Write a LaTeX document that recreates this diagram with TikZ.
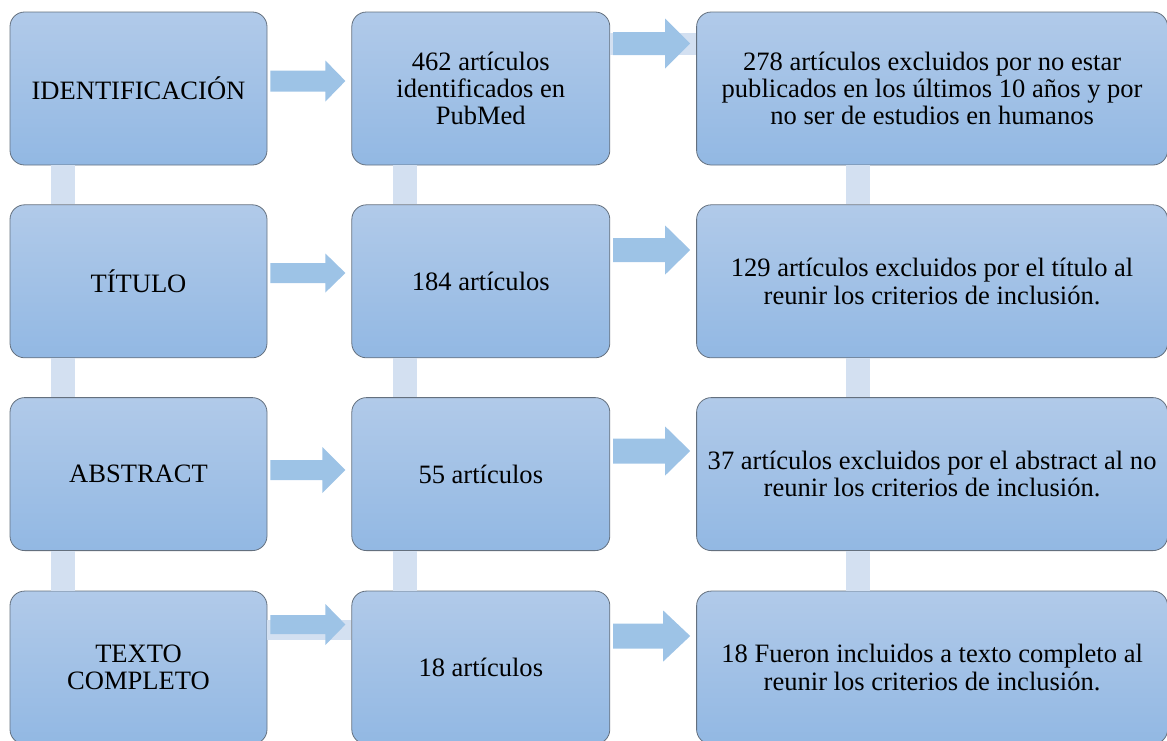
\documentclass[tikz,border=0pt]{standalone}
\usepackage{fontspec}
\setmainfont{Liberation Serif}
\usetikzlibrary{positioning,calc}

\definecolor{boxtop}{RGB}{177,202,233}
\definecolor{boxbottom}{RGB}{146,184,227}
\definecolor{boxline}{RGB}{100,112,126}
\definecolor{arrowblue}{RGB}{157,195,230}
\definecolor{linkblue}{RGB}{211,224,241}

% block arrow: from, to, y, half shaft, half head, head length
\newcommand{\stagearrow}[6]{%
  \path (#1.east |- 0,#3) coordinate (as) (#2.west |- 0,#3) coordinate (ae);
  \fill[arrowblue] ($(as)+(3,-#4)$) -- ($(ae)+(-6-#6,-#4)$) -- ($(ae)+(-6-#6,-#5)$)
    -- ($(ae)+(-6,0)$) -- ($(ae)+(-6-#6,#5)$) -- ($(ae)+(-6-#6,#4)$) -- ($(as)+(3,#4)$) -- cycle;
}

\begin{document}
\begin{tikzpicture}
   [x=0.75pt, y=-0.75pt,
    stage/.style={rectangle, rounded corners=11pt, draw=boxline, line width=0.6pt,
      top color=boxtop, bottom color=boxbottom, align=center, inner sep=2pt,
      minimum height=114.75pt, font=\fontsize{19.9}{20.5}\selectfont},
    first/.style={stage, minimum width=192.75pt},
    count/.style={stage, minimum width=193.5pt},
    result/.style={stage, minimum width=353.25pt},
    vlink/.style={linkblue, line width=18pt}]
   \useasboundingbox (0,0) rectangle (1167,740);

   % left column
   \node[first] (i1) at (138.5,88.5) {IDENTIFICACIÓN};
   \node[first, below=29.25pt of i1] (i2) {TÍTULO};
   \node[first, below=29.25pt of i2] (i3) {ABSTRACT};
   \node[first, below=29.75pt of i3] (i4) {TEXTO\\COMPLETO};

   % middle column
   \node[count, right=63pt of i1] (c1) {462 artículos\\identificados en\\PubMed};
   \node[count, right=63pt of i2] (c2) {184 artículos};
   \node[count, right=63pt of i3] (c3) {55 artículos};
   \node[count, right=63pt of i4] (c4) {18 artículos};

   % right column
   \node[result, right=64.5pt of c1] (r1) {278 artículos excluidos por no estar\\publicados en los últimos 10 años y por\\no ser de estudios en humanos};
   \node[result, right=64.5pt of c2] (r2) {129 artículos excluidos por el título al\\reunir los criterios de inclusión.};
   \node[result, right=64.5pt of c3] (r3) {37 artículos excluidos por el abstract al no\\reunir los criterios de inclusión.};
   \node[result, right=64.5pt of c4] (r4) {18 Fueron incluidos a texto completo al\\reunir los criterios de inclusión.};

   % vertical links
   \foreach \a/\b in {1/2,2/3,3/4}{
     \draw[vlink] ([xshift=39.75pt]i\a.south west) -- ([xshift=39.75pt]i\b.north west);
     \draw[vlink] ([xshift=40.1pt]c\a.south west) -- ([xshift=40.1pt]c\b.north west);
     \draw[vlink] ([xshift=121.1pt]r\a.south west) -- ([xshift=121.1pt]r\b.north west);
   }

   % faint bands behind two arrows
   \fill[linkblue] (c1.east |- 0,33) rectangle (r1.west |- 0,55);
   \fill[linkblue] (i4.east |- 0,620) rectangle (c4.west |- 0,640);

   % arrows
   \stagearrow{i1}{c1}{81}{10.5}{20.5}{20}
   \stagearrow{c1}{r1}{43.5}{11.5}{25}{25}
   \stagearrow{i2}{c2}{273}{10}{19.5}{20}
   \stagearrow{c2}{r2}{250}{12}{24.5}{25}
   \stagearrow{i3}{c3}{470}{10}{23}{23}
   \stagearrow{c3}{r3}{451}{12.5}{24.5}{25}
   \stagearrow{i4}{c4}{624.5}{9.5}{20.5}{20}
   \stagearrow{c4}{r4}{636}{12.5}{25.5}{27}
\end{tikzpicture}
\end{document}
